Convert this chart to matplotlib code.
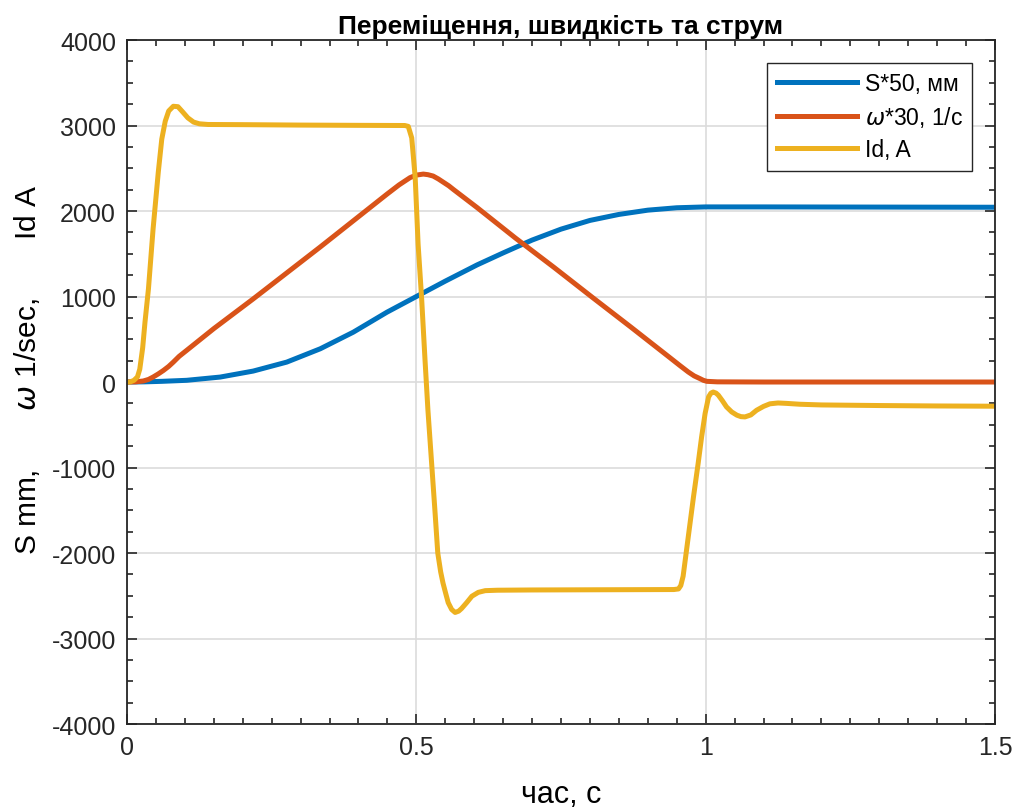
import matplotlib
matplotlib.use("Agg")
import matplotlib.pyplot as plt
from matplotlib.ticker import MultipleLocator

# readings
t_s = [0, 0.03, 0.06, 0.103, 0.161, 0.218, 0.276, 0.334, 0.391, 0.449, 0.5,
       0.55, 0.605, 0.65, 0.7, 0.75, 0.8, 0.85, 0.9, 0.95, 1.0, 1.1, 1.2, 1.3, 1.4, 1.5]
s_vals = [0, 2, 8, 20, 58, 128, 233, 389, 583, 816, 1000,
          1180, 1370, 1510, 1660, 1788, 1890, 1960, 2010, 2038, 2048, 2048, 2047, 2046, 2045, 2044]

t_w = [0, 0.015, 0.028, 0.037, 0.045, 0.054, 0.063, 0.072, 0.08, 0.09, 0.103, 0.15,
       0.218, 0.334, 0.449, 0.47, 0.489, 0.5, 0.512, 0.52, 0.529, 0.538, 0.547, 0.556,
       0.564, 0.605, 0.671, 0.738, 0.804, 0.871, 0.937, 0.955, 0.97, 0.98, 0.99, 0.996,
       1.002, 1.02, 1.1, 1.2, 1.3, 1.4, 1.5]
w_vals = [0, 2, 12, 30, 58, 95, 136, 183, 233, 300, 370, 625,
          972, 1580, 2196, 2305, 2390, 2420, 2432, 2425, 2409, 2375, 2335, 2295,
          2252, 2040, 1685, 1340, 991, 641, 291, 195, 117, 72, 40, 20,
          8, 2, 0, 0, 0, 0, 0]

t_id = [0, 0.005, 0.012, 0.018, 0.022, 0.027, 0.031, 0.037, 0.045, 0.054, 0.06, 0.066,
        0.072, 0.08, 0.088, 0.096, 0.105, 0.115, 0.125, 0.14, 0.2, 0.3, 0.4, 0.48,
        0.486, 0.492, 0.498, 0.503, 0.509, 0.515, 0.52, 0.526, 0.532, 0.537, 0.542,
        0.546, 0.551, 0.555, 0.561, 0.567, 0.573, 0.578, 0.587, 0.596, 0.607, 0.619,
        0.64, 0.7, 0.8, 0.9, 0.945, 0.953, 0.957, 0.961, 0.97, 0.979, 0.987, 0.993,
        0.999, 1.005, 1.009, 1.013, 1.018, 1.022, 1.029, 1.036, 1.045, 1.054, 1.061,
        1.068, 1.078, 1.088, 1.1, 1.111, 1.125, 1.14, 1.163, 1.2, 1.3, 1.4, 1.5]
id_vals = [0, 0, 20, 60, 150, 400, 700, 1090, 1790, 2455, 2840, 3050,
           3170, 3225, 3220, 3160, 3090, 3040, 3020, 3012, 3010, 3005, 3002, 3000,
           2990, 2855, 2390, 1613, 990, 253, -330, -913, -1495, -2000, -2220,
           -2350, -2480, -2580, -2660, -2695, -2680, -2650, -2580, -2505, -2460, -2440,
           -2435, -2432, -2430, -2428, -2427, -2420, -2380, -2272, -1806, -1340, -951, -641,
           -368, -175, -130, -117, -130, -155, -220, -291, -350, -388, -405,
           -408, -385, -330, -285, -255, -245, -250, -260, -268, -275, -280, -283]

labels = ["S*50, мм", r"$\omega$*30, 1/с", "Id, A"]
colors = ["#0072BD", "#D95319", "#EDB120"]

plt.rcParams["font.family"] = ["Liberation Sans", "DejaVu Sans"]
plt.rcParams["mathtext.fontset"] = "dejavusans"
plt.rcParams["axes.unicode_minus"] = False

fig = plt.figure(figsize=(10.18, 8.12), dpi=100)
ax = fig.add_axes([0.1248, 0.1071, 0.8526, 0.8424])

ax.plot(t_s, s_vals, color=colors[0], lw=3.6, label=labels[0])
ax.plot(t_w, w_vals, color=colors[1], lw=3.6, label=labels[1])
ax.plot(t_id, id_vals, color=colors[2], lw=3.6, label=labels[2])

ax.set_xlim(0, 1.5)
ax.set_ylim(-4000, 4000)
ax.set_xticks([0, 0.5, 1, 1.5])
ax.set_xticklabels(["0", "0.5", "1", "1.5"])
ax.set_yticks(range(-4000, 4001, 1000))
ax.xaxis.set_minor_locator(MultipleLocator(0.05))
ax.yaxis.set_minor_locator(MultipleLocator(250))
ax.tick_params(which="both", direction="in", top=True, right=True,
               colors="#262626", labelsize=18, width=1.2)
ax.tick_params(which="major", length=7, pad=8)
ax.tick_params(which="minor", length=4)
ax.grid(True, which="major", color="#dcdcdc", lw=1.2)
ax.set_axisbelow(True)
for sp in ax.spines.values():
    sp.set_color("#262626")
    sp.set_linewidth(1.3)

ax.set_title("Переміщення, швидкість та струм", fontsize=19, fontweight="bold", pad=5)
ax.set_xlabel("час, с", fontsize=22, labelpad=14)
ax.set_ylabel(r"S mm,       $\omega$ 1/sec,       Id A", fontsize=21.5, labelpad=4)
ax.yaxis.set_label_coords(-0.098, 0.52)

leg = ax.legend(loc="upper right", fontsize=16.5, handlelength=3.5, handletextpad=0.35,
                labelspacing=0.4, borderaxespad=1.0, fancybox=False, framealpha=1)
leg.get_frame().set_edgecolor("#262626")
leg.get_frame().set_linewidth(1.0)

fig.savefig("out.png", dpi=100)
